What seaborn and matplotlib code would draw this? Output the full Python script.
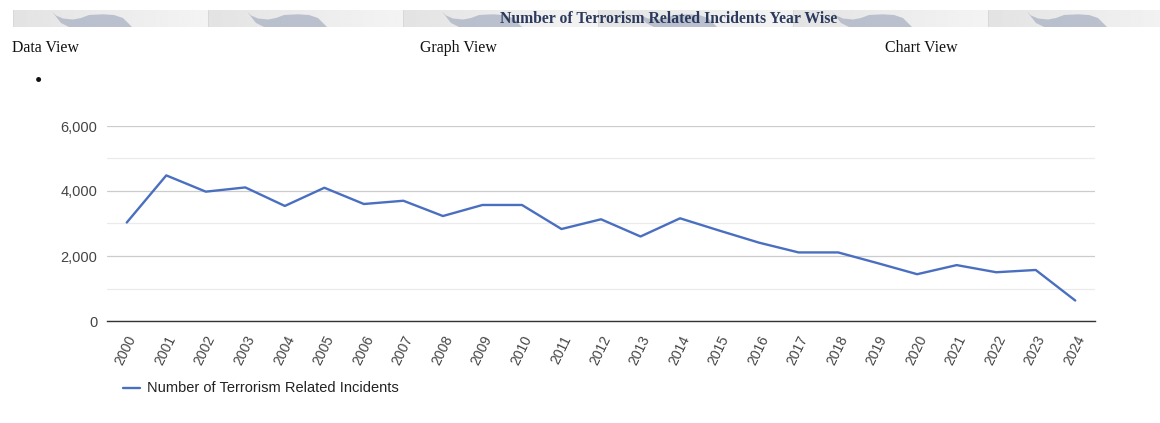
import numpy as np
import pandas as pd
import matplotlib
matplotlib.use("Agg")
import matplotlib.pyplot as plt
import matplotlib.transforms as mtransforms
from matplotlib.patches import Polygon
from matplotlib.ticker import MultipleLocator, FuncFormatter
import seaborn as sns

# ---- data ----
years = [2000, 2001, 2002, 2003, 2004, 2005, 2006, 2007, 2008, 2009, 2010, 2011,
         2012, 2013, 2014, 2015, 2016, 2017, 2018, 2019, 2020, 2021, 2022, 2023, 2024]
incidents = [3030, 4480, 3980, 4110, 3540, 4100, 3600, 3700, 3230, 3570, 3570, 2830,
             3130, 2600, 3160, 2780, 2410, 2110, 2110, 1780, 1440, 1720, 1500, 1570, 630]
series_name = "Number of Terrorism Related Incidents"
title_text = "Number of Terrorism Related Incidents Year Wise"
view_labels = ["Data View", "Graph View", "Chart View"]

df = pd.DataFrame({"Year": years, series_name: incidents})

sns.set_theme(style="white")
plt.rcParams["font.family"] = ["Liberation Sans", "DejaVu Sans"]

W, H = 1160, 423
fig = plt.figure(figsize=(W / 100, H / 100), dpi=100)

def fx(px):
    return px / W

def fy(py):
    return 1 - py / H

# ---- banner ----
bx0, bx1, by0, by1 = 13, 1160, 10, 27
bh = by1 - by0
bax = fig.add_axes([fx(bx0), fy(by1), fx(bx1 - bx0), bh / H])
bax.axis("off")
tile = 195
grad = np.linspace(0.89, 0.955, 200)[None, :]
for i in range(int(np.ceil((bx1 - bx0) / tile))):
    x0 = i * tile
    bax.imshow(np.repeat(grad, 2, axis=0), cmap="gray", vmin=0, vmax=1, aspect="auto",
               extent=[x0, x0 + tile, bh, 0], zorder=1)
    wave = [(39, 1.5), (43, 5.5), (50, 8.5), (60, 9.5), (68, 8), (76, 5), (90, 4.3),
            (101, 5), (110, 8), (119, 17), (56, 17), (48, 13)]
    bax.add_patch(Polygon([(x0 + a, b) for a, b in wave], closed=True,
                          facecolor="#aeb6c6", edgecolor="none", alpha=0.8, zorder=2))
    bax.plot([x0, x0], [0, bh], color="#d6d6d6", lw=0.6, zorder=3)
bax.set_xlim(0, bx1 - bx0)
bax.set_ylim(bh, 0)
fig.text(fx(669), fy(19), title_text, ha="center", va="center",
         family=["Liberation Serif"], fontweight="bold", fontsize=11.3, color="#2b3a5c")

# view labels
for lab, xp in zip(view_labels, [12, 420, 885]):
    fig.text(fx(xp), fy(47.5), lab, ha="left", va="center",
             family=["Liberation Serif"], fontsize=11.4, color="#111111")
fig.text(fx(38), fy(82), "\u2022", ha="center", va="center",
         family=["Liberation Serif"], fontsize=15, color="#111111")

# ---- chart ----
ax = fig.add_axes([fx(107), fy(321), fx(1095 - 107), (321 - 126) / H])
sns.lineplot(data=df, x="Year", y=series_name, ax=ax, color="#4a6fc0",
             linewidth=1.7, label=series_name, legend=False)
ax.set_xlim(years[0] - 0.5, years[-1] + 0.5)
ax.set_ylim(0, 6000)
ax.yaxis.set_major_locator(MultipleLocator(2000))
ax.yaxis.set_minor_locator(MultipleLocator(1000))
ax.yaxis.set_major_formatter(FuncFormatter(lambda v, p: f"{int(v):,}"))
ax.grid(which="major", axis="y", color="#cccccc", linewidth=0.9)
ax.grid(which="minor", axis="y", color="#ebebeb", linewidth=0.9)
ax.grid(axis="x", visible=False)
ax.set_axisbelow(True)
for s in ["top", "right", "left"]:
    ax.spines[s].set_visible(False)
ax.spines["bottom"].set_color("#333333")
ax.spines["bottom"].set_linewidth(1.0)
ax.spines["bottom"].set_zorder(5)
ax.tick_params(axis="x", length=0, pad=11, labelsize=10, labelcolor="#444444")
ax.tick_params(axis="y", which="both", length=0, pad=7, labelsize=10.5, labelcolor="#444444")
ax.set_xticks(years)
ax.set_xticklabels([str(y) for y in years], rotation=64, ha="right",
                   va="center", rotation_mode="anchor")
shift = mtransforms.ScaledTranslation(6 / 100, 0, fig.dpi_scale_trans)
for lbl in ax.get_xticklabels():
    lbl.set_transform(lbl.get_transform() + shift)
ax.set_xlabel("")
ax.set_ylabel("")
ax.set_facecolor("white")

# legend (placed as in the reference, below the plot)
fig.lines.append(plt.Line2D([fx(123), fx(140)], [fy(388), fy(388)], transform=fig.transFigure,
                            color="#4a6fc0", linewidth=1.7))
fig.text(fx(147), fy(388), series_name, ha="left", va="center", fontsize=10.5, color="#222222")

fig.savefig("out.png", dpi=100, facecolor="white")
